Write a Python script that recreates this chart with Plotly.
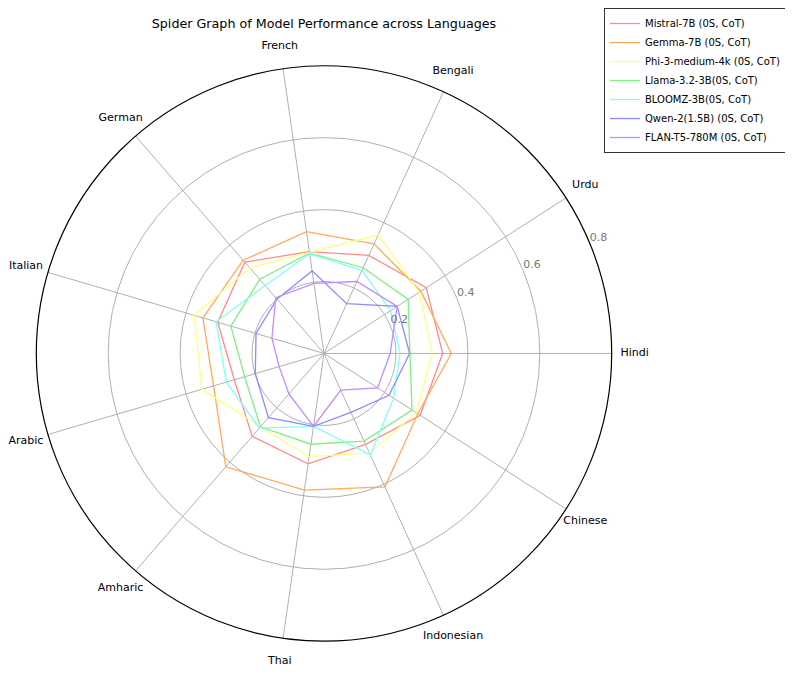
import plotly.graph_objects as go

languages = ["Hindi", "Urdu", "Bengali", "French", "German", "Italian",
             "Arabic", "Amharic", "Thai", "Indonesian", "Chinese"]

models = ["Mistral-7B (0S, CoT)", "Gemma-7B (0S, CoT)", "Phi-3-medium-4k (0S, CoT)",
          "Llama-3.2-3B(0S, CoT)", "BLOOMZ-3B(0S, CoT)", "Qwen-2(1.5B) (0S, CoT)",
          "FLAN-T5-780M (0S, CoT)"]

mistral = [0.330, 0.338, 0.300, 0.286, 0.336, 0.308, 0.260, 0.305, 0.310, 0.278, 0.318]
gemma   = [0.354, 0.320, 0.335, 0.342, 0.343, 0.351, 0.320, 0.417, 0.384, 0.408, 0.310]
phi     = [0.301, 0.315, 0.362, 0.284, 0.315, 0.376, 0.354, 0.270, 0.290, 0.305, 0.305]
llama   = [0.239, 0.278, 0.262, 0.282, 0.273, 0.270, 0.230, 0.270, 0.255, 0.268, 0.291]
bloomz  = [0.211, 0.220, 0.254, 0.280, 0.250, 0.313, 0.283, 0.275, 0.205, 0.310, 0.230]
qwen    = [0.238, 0.242, 0.152, 0.232, 0.200, 0.197, 0.199, 0.236, 0.205, 0.180, 0.215]
flan    = [0.184, 0.242, 0.220, 0.197, 0.205, 0.151, 0.130, 0.149, 0.205, 0.112, 0.177]

series = [mistral, gemma, phi, llama, bloomz, qwen, flan]
colors = ["#ff8c8c", "#ffaa5a", "#ffff80", "#80f080", "#80ffff", "#8c8cff", "#c08cff"]

radial_ticks = [0.2, 0.4, 0.6, 0.8]
r_max = 0.8
radial_label_angle = 22.5

n = len(languages)
angles = [i * 360.0 / n for i in range(n)]

# page is offset by the default 8px body margin
W, H = 785, 667
cx, cy, R = 316, 344, 289        # main polar (figure px)
R2 = 316                          # label ring polar
label_px = 312                    # radius (px) where category labels are centred

fig = go.Figure()
for name, vals, col in zip(models, series, colors):
    fig.add_trace(go.Scatterpolar(
        r=vals + vals[:1],
        theta=angles + angles[:1],
        mode="lines",
        name=name,
        line=dict(color=col, width=1.3),
        subplot="polar",
    ))

# radial tick labels
fig.add_trace(go.Scatterpolar(
    r=radial_ticks, theta=[radial_label_angle] * len(radial_ticks),
    mode="text", text=[str(t) for t in radial_ticks],
    textposition="top right",
    textfont=dict(size=11, color="#777777", family="DejaVu Sans"),
    showlegend=False, hoverinfo="skip", cliponaxis=False, subplot="polar",
))

# category labels (centred around the circle)
fig.add_trace(go.Scatterpolar(
    r=[label_px / R2] * n, theta=angles,
    mode="text", text=languages, textposition="middle center",
    textfont=dict(size=11, color="black", family="DejaVu Sans"),
    showlegend=False, hoverinfo="skip", cliponaxis=False, subplot="polar2",
))

hidden_axis = dict(showgrid=False, showline=False, showticklabels=False, ticks="")

fig.update_layout(
    width=W, height=H,
    margin=dict(l=0, r=0, t=0, b=0),
    paper_bgcolor="white",
    font=dict(family="DejaVu Sans", size=11, color="black"),
    title=dict(text="Spider Graph of Model Performance across Languages",
               x=cx / W, xanchor="center", y=1 - 16 / H, yanchor="middle",
               font=dict(size=12.7, color="black")),
    polar=dict(
        domain=dict(x=[(cx - R) / W, (cx + R) / W], y=[1 - (cy + R) / H, 1 - (cy - R) / H]),
        bgcolor="white",
        angularaxis=dict(
            type="linear", thetaunit="degrees",
            rotation=0, direction="counterclockwise",
            tickmode="array", tickvals=angles, showticklabels=False,
            showline=True, linecolor="black", linewidth=1.2,
            gridcolor="#b0b0b0", gridwidth=1, ticks="",
        ),
        radialaxis=dict(
            range=[0, r_max], tickmode="array", tickvals=radial_ticks,
            showticklabels=False, showline=False, ticks="",
            gridcolor="#b0b0b0", gridwidth=1,
        ),
    ),
    polar2=dict(
        domain=dict(x=[(cx - R2) / W, (cx + R2) / W], y=[1 - (cy + R2) / H, 1 - (cy - R2) / H]),
        bgcolor="rgba(0,0,0,0)",
        angularaxis=dict(type="linear", rotation=0, direction="counterclockwise", **hidden_axis),
        radialaxis=dict(range=[0, 1], **hidden_axis),
    ),
    legend=dict(
        x=778 / W, y=1 + 3 / H, xanchor="right", yanchor="top",
        bgcolor="white", bordercolor="#333333", borderwidth=1,
        font=dict(size=10, color="black"),
        tracegroupgap=0, itemwidth=30,
    ),
)

fig.write_html("out.html")
